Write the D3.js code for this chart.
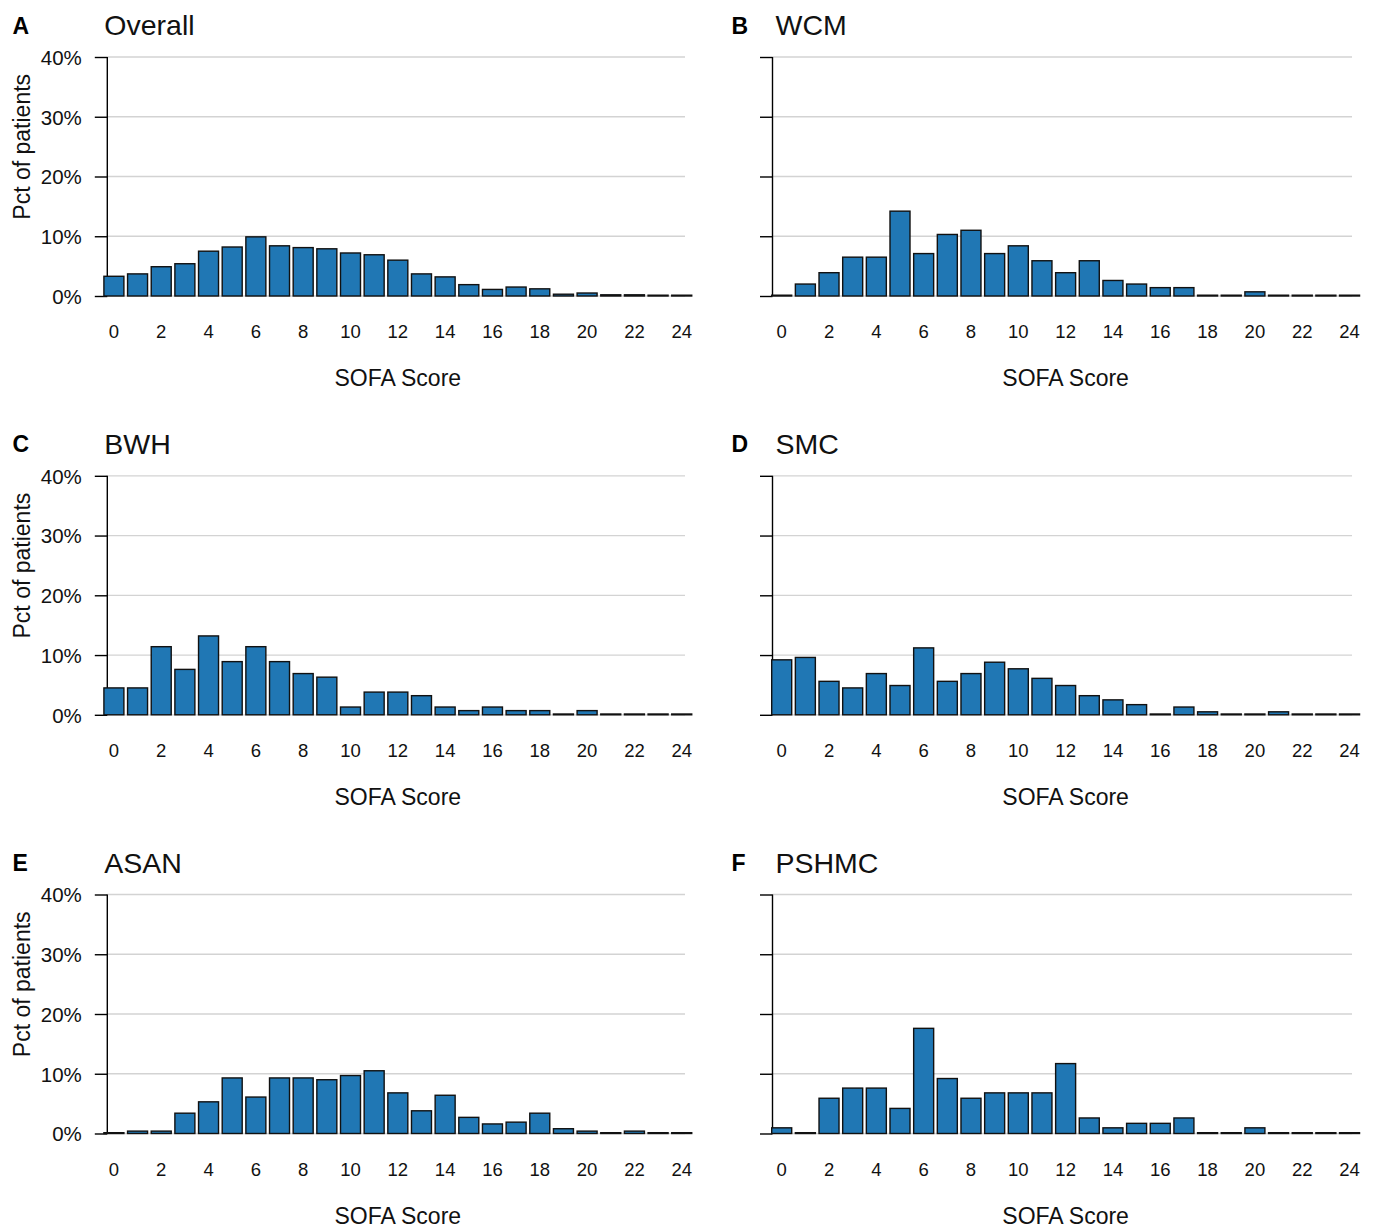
<!DOCTYPE html>
<html>
<head>
<meta charset="utf-8">
<script src="https://cdn.jsdelivr.net/npm/d3@7"></script>
<style>
  html, body { margin: 0; padding: 0; background: #ffffff; }
  svg { display: block; font-family: "Liberation Sans", Arial, Helvetica, sans-serif; }
</style>
</head>
<body>
<svg id="chart" width="1377" height="1227"></svg>
<script>
// ---- data ----
const scores = [0,1,2,3,4,5,6,7,8,9,10,11,12,13,14,15,16,17,18,19,20,21,22,23,24];
const xTickLabels = ["0","2","4","6","8","10","12","14","16","18","20","22","24"];
const yTickValues = [0, 10, 20, 30, 40];
const yTickLabels = ["0%", "10%", "20%", "30%", "40%"];

const panelLetters = ["A", "B", "C", "D", "E", "F"];
const panelTitles = ["Overall", "WCM", "BWH", "SMC", "ASAN", "PSHMC"];

const overall = [3.3,3.7,4.9,5.4,7.5,8.2,9.9,8.4,8.1,7.9,7.2,6.9,6.0,3.7,3.2,1.9,1.1,1.5,1.2,0.3,0.5,0.2,0.2,0.05,0.05];
const wcm     = [0,2.0,3.9,6.5,6.5,14.2,7.1,10.3,11.0,7.1,8.4,5.9,3.9,5.9,2.6,2.0,1.4,1.4,0,0,0.7,0,0,0,0];
const bwh     = [4.5,4.5,11.4,7.6,13.2,8.9,11.4,8.9,6.9,6.3,1.3,3.8,3.8,3.2,1.3,0.7,1.3,0.7,0.7,0,0.7,0,0,0,0];
const smc     = [9.2,9.6,5.6,4.5,6.9,4.9,11.2,5.6,6.9,8.8,7.7,6.1,4.9,3.2,2.5,1.7,0,1.3,0.5,0,0,0.5,0,0,0];
const asan    = [0,0.4,0.4,3.4,5.3,9.3,6.1,9.3,9.3,9.0,9.7,10.5,6.8,3.8,6.4,2.7,1.6,1.9,3.4,0.8,0.4,0,0.4,0,0];
const pshmc   = [0.95,0,5.9,7.6,7.6,4.2,17.6,9.2,5.9,6.8,6.8,6.8,11.7,2.6,0.95,1.7,1.7,2.6,0,0,0.95,0,0,0,0];

const seriesList = [overall, wcm, bwh, smc, asan, pshmc];

// ---- layout ----
const svg = d3.select("#chart");
const step = 23.66;
const colLayout = [
  { axisX: 107.3, c0: 113.9, gridEnd: 685,  letterX: 12.5, titleX: 104.3 },
  { axisX: 772.5, c0: 781.7, gridEnd: 1352, letterX: 731.5, titleX: 775.5 }
];
const rowTop = [57, 475.8, 894.5];
const plotH = 239;

const barColor = "#2077b4";

seriesList.forEach((values, i) => {
  const col = i % 2, row = Math.floor(i / 2);
  const L = colLayout[col];
  const top = rowTop[row], zero = top + plotH;

  const x = d3.scaleBand()
    .domain(scores)
    .range([L.c0 - step / 2, L.c0 - step / 2 + 25 * step])
    .paddingInner(0.155)
    .paddingOuter(0.0775);
  const y = d3.scaleLinear().domain([0, 40]).range([zero, top]);

  const g = svg.append("g");

  // gridlines
  g.append("g").selectAll("line")
    .data(yTickValues)
    .join("line")
    .attr("x1", L.axisX).attr("x2", L.gridEnd)
    .attr("y1", d => y(d)).attr("y2", d => y(d))
    .attr("stroke", "#d3d3d3").attr("stroke-width", 1.3);

  // y axis
  const yAxis = d3.axisLeft(y)
    .tickValues(yTickValues)
    .tickSize(12.5)
    .tickPadding(13)
    .tickFormat((d, k) => col === 0 ? yTickLabels[k] : "");
  const ya = g.append("g")
    .attr("transform", `translate(${L.axisX},0)`)
    .call(yAxis);
  ya.select(".domain").attr("d", `M0,${top}V${zero}`).attr("stroke", "#000").attr("stroke-width", 1.4);
  ya.selectAll(".tick line").attr("stroke", "#000").attr("stroke-width", 1.4);
  ya.selectAll(".tick text")
    .attr("font-size", 20.5)
    .attr("fill", "#111")
    .attr("font-family", "'Liberation Sans', Arial, sans-serif")
    .attr("dy", "0.36em");

  // bars
  g.append("g").selectAll("rect")
    .data(values.map((v, k) => ({ s: scores[k], v })))
    .join("rect")
    .attr("x", d => x(d.s))
    .attr("width", x.bandwidth())
    .attr("y", d => Math.min(y(d.v), zero - 0.8))
    .attr("height", d => Math.max(zero - y(d.v), 0.8))
    .attr("fill", barColor)
    .attr("stroke", "#111")
    .attr("stroke-width", 1.4);

  // x axis (labels only)
  const xAxis = d3.axisBottom(x)
    .tickValues(xTickLabels.map(Number))
    .tickSize(0)
    .tickPadding(0)
    .tickFormat((d) => xTickLabels[xTickLabels.indexOf(String(d))]);
  const xa = g.append("g")
    .attr("transform", `translate(0,${zero})`)
    .call(xAxis);
  xa.select(".domain").remove();
  xa.selectAll(".tick text")
    .attr("font-size", 18.5)
    .attr("fill", "#111")
    .attr("font-family", "'Liberation Sans', Arial, sans-serif")
    .attr("y", 42)
    .attr("dy", 0);

  // x title
  const [r0, r1] = x.range();
  g.append("text")
    .attr("x", (r0 + r1) / 2)
    .attr("y", zero + 90)
    .attr("text-anchor", "middle")
    .attr("font-size", 23)
    .attr("fill", "#111")
    .text("SOFA Score");

  // y title (left column only)
  if (col === 0) {
    g.append("text")
      .attr("transform", `translate(29.5,${top + 89.8}) rotate(-90)`)
      .attr("text-anchor", "middle")
      .attr("font-size", 23)
      .attr("fill", "#111")
      .text("Pct of patients");
  }

  // panel letter and title
  g.append("text")
    .attr("x", L.letterX)
    .attr("y", top - 23.5)
    .attr("font-size", 23)
    .attr("font-weight", "bold")
    .attr("fill", "#000")
    .text(panelLetters[i]);
  g.append("text")
    .attr("x", L.titleX)
    .attr("y", top - 22)
    .attr("font-size", 28.5)
    .attr("fill", "#111")
    .text(panelTitles[i]);
});
</script>
</body>
</html>
